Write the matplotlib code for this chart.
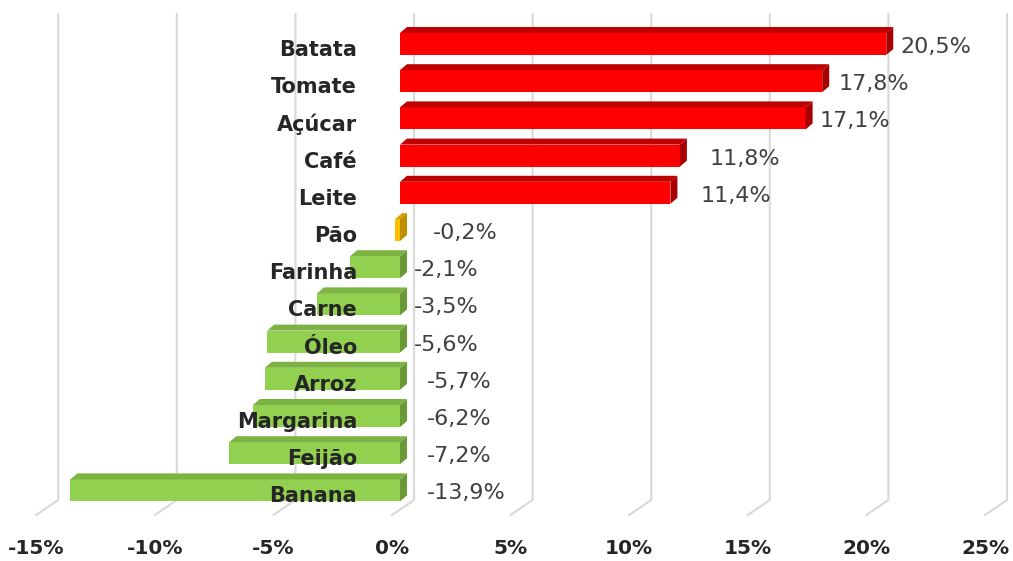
import numpy as np
import matplotlib
matplotlib.use("Agg")
import matplotlib.pyplot as plt
from matplotlib.patches import Polygon

# variação de preços - barras horizontais com efeito 3D

produtos = ["Batata", "Tomate", "Açúcar", "Café", "Leite", "Pão", "Farinha",
            "Carne", "Óleo", "Arroz", "Margarina", "Feijão", "Banana"]
variacao = [20.5, 17.8, 17.1, 11.8, 11.4, -0.2, -2.1, -3.5, -5.6, -5.7, -6.2, -7.2, -13.9]
rotulos = ["20,5%", "17,8%", "17,1%", "11,8%", "11,4%", "-0,2%", "-2,1%",
           "-3,5%", "-5,6%", "-5,7%", "-6,2%", "-7,2%", "-13,9%"]
ticks = [-15, -10, -5, 0, 5, 10, 15, 20, 25]
tick_labels = ["-15%", "-10%", "-5%", "0%", "5%", "10%", "15%", "20%", "25%"]

# pixel scale of the picture (px per % and px per category)
PX = 23.72
PY = 37.2
X0_PX = 392   # pixel of 0% on the front floor
Y0_PX = 44    # pixel of first bar centre


def dx(p):
    return p / PX


def dy(p):
    return p / PY


# label nudges (px) to follow the hand placed labels
nudge = [7, 9, 7, 23, 23, 26, 7, 7, 7, 20, 20, 20, 20]


def cores(v, i):
    if v > 0:
        return "#FF0000", "#C00000", "#A80000"
    if produtos[i] == "Pão":
        return "#FFC000", "#D9A000", "#BF8F00"
    return "#92D050", "#7DB343", "#6A9A38"


fig = plt.figure(figsize=(10.13, 5.61), dpi=100)
ax = fig.add_axes([0, 0, 1, 1])
ax.set_xlim(-X0_PX / PX, (1013 - X0_PX) / PX)
ax.set_ylim((561 - Y0_PX) / PY, -Y0_PX / PY)
ax.axis("off")

# gridlines: back wall + floor foot
for t in ticks:
    xb = t + dx(22)
    ax.plot([xb, xb, t], [dy(14 - Y0_PX), dy(500 - Y0_PX), dy(515 - Y0_PX)],
            color="#D9D9D9", lw=1.5, zorder=1, solid_joinstyle="miter")

idx = np.arange(len(produtos))
h = dy(22)
shift = dx(8)
ddx, ddy = dx(7), dy(-6)

front_cols = [cores(v, i)[0] for i, v in enumerate(variacao)]
ax.barh(idx, variacao, height=h, left=shift, color=front_cols, zorder=3)

for i, v in enumerate(variacao):
    f, top, side = cores(v, i)
    xa = shift + min(v, 0)
    xe = shift + max(v, 0)
    yt = i - h / 2
    yb = i + h / 2
    ax.add_patch(Polygon([(xa, yt), (xe, yt), (xe + ddx, yt + ddy), (xa + ddx, yt + ddy)],
                         closed=True, facecolor=top, edgecolor="none", zorder=3))
    ax.add_patch(Polygon([(xe, yt), (xe, yb), (xe + ddx, yb + ddy), (xe + ddx, yt + ddy)],
                         closed=True, facecolor=side, edgecolor="none", zorder=3))

    # category label
    ax.text(dx(357 - X0_PX), i + dy(6), produtos[i], ha="right", va="center",
            fontsize=15, fontweight="bold", color="#262626", zorder=5)

    # value label
    xl = xe + ddx + dx(nudge[i])
    ax.text(xl, i + dy(3), rotulos[i], ha="left", va="center",
            fontsize=16, color="#404040", zorder=5)

for t, lab in zip(ticks, tick_labels):
    ax.text(t, dy(549 - Y0_PX), lab, ha="center", va="center",
            fontsize=14.5, fontweight="bold", color="#262626")

fig.savefig("out.png", dpi=100)
